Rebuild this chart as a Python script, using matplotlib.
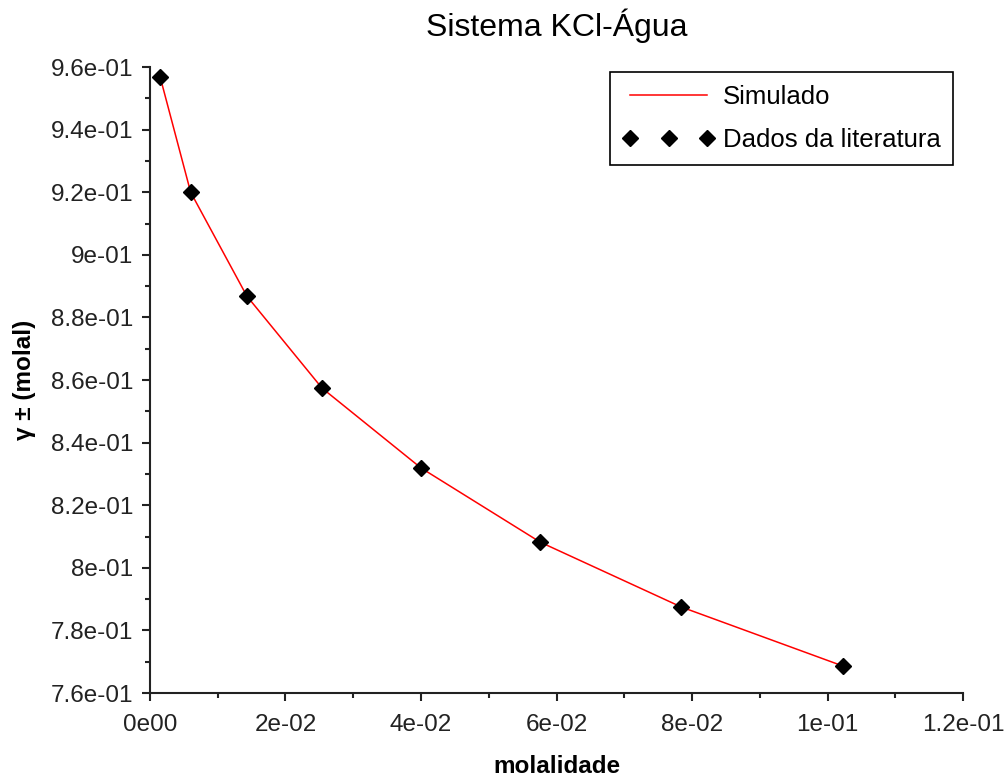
import matplotlib.pyplot as plt
from matplotlib.ticker import MultipleLocator, FixedLocator

plt.rcParams['font.family'] = ['Liberation Sans', 'DejaVu Sans']

# KCl-water mean activity coefficient vs molality
molalidade = [0.0015, 0.0060, 0.0143, 0.0254, 0.0400, 0.0576, 0.0784, 0.1023]
gamma_lit = [0.9568, 0.9200, 0.8868, 0.8574, 0.8319, 0.8082, 0.7875, 0.7686]
gamma_sim = [0.9568, 0.9200, 0.8868, 0.8574, 0.8319, 0.8082, 0.7875, 0.7686]

x_ticks = [0.0, 0.02, 0.04, 0.06, 0.08, 0.10, 0.12]
x_labels = ['0e00', '2e-02', '4e-02', '6e-02', '8e-02', '1e-01', '1.2e-01']
y_ticks = [0.76, 0.78, 0.80, 0.82, 0.84, 0.86, 0.88, 0.90, 0.92, 0.94, 0.96]
y_labels = ['7.6e-01', '7.8e-01', '8e-01', '8.2e-01', '8.4e-01', '8.6e-01',
            '8.8e-01', '9e-01', '9.2e-01', '9.4e-01', '9.6e-01']

fig = plt.figure(figsize=(10.08, 7.8), dpi=100)
ax = fig.add_axes([0.1488, 0.1115, 0.8066, 0.8026])

ax.plot(molalidade, gamma_sim, color='red', lw=1.1, label='Simulado')
ax.plot(molalidade, gamma_lit, ls='none', marker='D', ms=8.5, color='black',
        label='Dados da literatura')

ax.set_xlim(0, 0.12)
ax.set_ylim(0.76, 0.96)
ax.xaxis.set_major_locator(FixedLocator(x_ticks))
ax.set_xticklabels(x_labels)
ax.yaxis.set_major_locator(FixedLocator(y_ticks))
ax.set_yticklabels(y_labels)
ax.xaxis.set_minor_locator(MultipleLocator(0.01))
ax.yaxis.set_minor_locator(MultipleLocator(0.01))

for side in ['top', 'right']:
    ax.spines[side].set_visible(False)
for side in ['left', 'bottom']:
    ax.spines[side].set_linewidth(1.5)
    ax.spines[side].set_color('#222222')

ax.tick_params(which='major', length=6, width=1.5, direction='out',
               labelsize=17.5, colors='#222222', pad=6)
ax.tick_params(which='minor', length=3.5, width=1.5, direction='out',
               colors='#222222')
ax.tick_params(axis='x', pad=9)

ax.set_title('Sistema KCl-Água', fontsize=23, pad=22)
ax.set_xlabel('molalidade', fontsize=17.5, fontweight='bold', labelpad=14)
ax.set_ylabel('γ ± (molal)', fontsize=17.5, fontweight='bold', labelpad=11)

leg = ax.legend(loc='upper right', bbox_to_anchor=(0.988, 0.992), numpoints=3,
                fontsize=18.5, fancybox=False, framealpha=1, edgecolor='black',
                handlelength=3.6, handletextpad=0.3, borderpad=0.5,
                labelspacing=0.75, borderaxespad=0)
leg.get_frame().set_linewidth(1.2)

fig.savefig('out.png', dpi=100)
